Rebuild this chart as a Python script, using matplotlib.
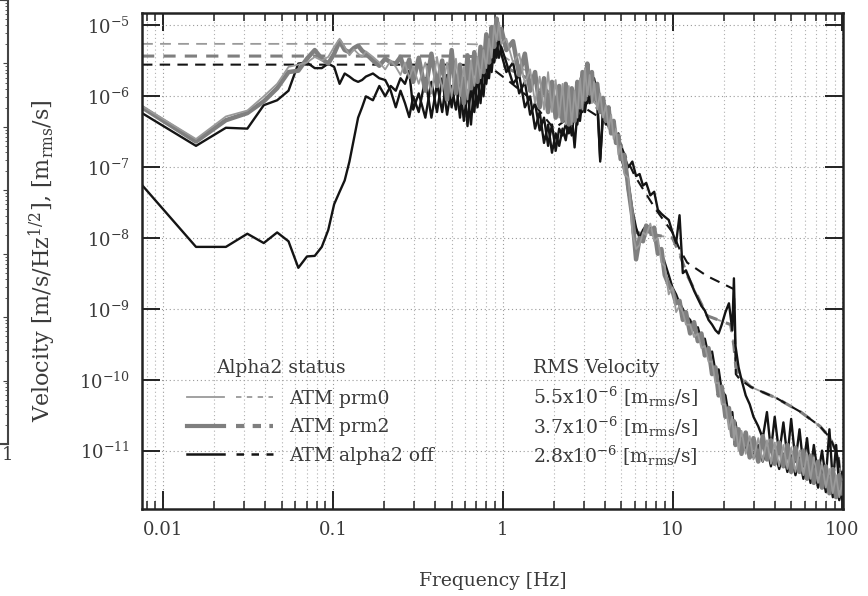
import matplotlib
matplotlib.use('Agg')
from matplotlib import pyplot as plt
from matplotlib.lines import Line2D
from matplotlib.legend_handler import HandlerTuple
from matplotlib.ticker import LogLocator, NullLocator, NullFormatter, FixedLocator, FixedFormatter

plt.rcParams['font.family'] = ['DejaVu Serif']
plt.rcParams['mathtext.fontset'] = 'dejavuserif'

# frequency grid shared by all spectra [Hz]
freq = [0.0075, 0.0156, 0.0234, 0.0313, 0.0391, 0.0469, 0.0547, 0.0625, 0.0703, 0.0781,
        0.0859, 0.0938, 0.1016, 0.1094, 0.1172, 0.125, 0.1328, 0.1406, 0.1484, 0.1563,
        0.1719, 0.1875, 0.2031, 0.2188, 0.2344, 0.25, 0.2656, 0.2813, 0.2969,
        0.32, 0.35, 0.38, 0.41, 0.44, 0.47, 0.50, 0.53, 0.56, 0.59, 0.62, 0.65, 0.68,
        0.71, 0.74, 0.77, 0.80, 0.83, 0.86, 0.89, 0.92, 0.95, 0.98,
        1.05, 1.15, 1.25, 1.35, 1.45, 1.55, 1.65, 1.75, 1.85, 1.95, 2.05, 2.15, 2.25,
        2.35, 2.45, 2.55, 2.65, 2.75, 2.85, 2.95, 3.05, 3.15, 3.25, 3.35, 3.45, 3.6,
        3.75, 3.9, 4.05, 4.2, 4.35, 4.5, 4.65, 4.8, 4.95,
        5.2, 5.5, 5.8, 6.1, 6.4, 6.7, 7.0, 7.4, 7.8, 8.2, 8.6, 9.0, 9.5, 10, 10.5, 11,
        11.5, 12, 12.7, 13.4, 14.1, 14.8, 15.5, 16.3, 17.1, 17.9, 18.7, 19.5,
        20.5, 21.5, 22.5, 23, 23.5, 24.5, 25.5, 27, 28.5, 30, 32, 34, 36, 38, 40, 42.5,
        45, 47.5, 50, 53, 56, 59, 62, 65, 68, 72, 76, 80, 84, 88, 92, 96, 100]

# ATM prm2 (thick grey)
prm2 = [7.0e-7, 2.3e-7, 4.6e-7, 5.8e-7, 8.5e-7, 1.3e-6, 2.2e-6, 2.3e-6, 3.4e-6, 4.5e-6,
        3.4e-6, 2.9e-6, 4.0e-6, 6.0e-6, 4.5e-6, 4.2e-6, 4.8e-6, 5.2e-6, 4.4e-6, 4.0e-6,
        3.2e-6, 2.7e-6, 3.4e-6, 3.0e-6, 2.9e-6, 3.6e-6, 2.2e-6, 3.3e-6, 1.6e-6,
        3.5e-6, 1.2e-6, 4.0e-6, 1.4e-6, 3.2e-6, 9.0e-7, 4.5e-6, 1.1e-6, 2.8e-6, 8.0e-7,
        3.8e-6, 1.3e-6, 4.2e-6, 1.6e-6, 5.0e-6, 2.2e-6, 7.5e-6, 3.0e-6, 9.5e-6, 5.0e-6,
        1.25e-5, 6.5e-6, 9.0e-6,
        4.5e-6, 6.0e-6, 2.0e-6, 4.0e-6, 1.2e-6, 2.2e-6, 7.0e-7, 1.8e-6, 6.0e-7, 1.6e-6,
        5.0e-7, 1.4e-6, 4.5e-7, 1.5e-6, 4.0e-7, 1.3e-6, 4.5e-7, 1.6e-6, 7.0e-7, 2.2e-6,
        9.0e-7, 2.9e-6, 1.1e-6, 2.2e-6, 9.0e-7, 1.5e-6, 6.0e-7, 9.5e-7, 4.5e-7, 7.0e-7,
        3.0e-7, 4.5e-7, 2.2e-7, 2.8e-7, 1.3e-7,
        1.5e-7, 5.0e-8, 2.0e-8, 5.0e-9, 1.0e-8, 9.0e-9, 1.5e-8, 1.2e-8, 1.4e-8, 6.0e-9,
        7.0e-9, 3.0e-9, 2.2e-9, 1.8e-9, 1.2e-9, 1.3e-9, 7.0e-10, 9.0e-10, 4.5e-10,
        6.5e-10, 3.5e-10, 4.5e-10, 2.2e-10, 2.8e-10, 1.2e-10, 1.5e-10, 6.0e-11, 8.0e-11,
        3.0e-11, 4.0e-11, 1.6e-11, 2.6e-11, 1.2e-11, 2.0e-11, 9.0e-12, 1.8e-11, 8.0e-12,
        1.5e-11, 7.0e-12, 1.6e-11, 7.5e-12, 1.4e-11, 6.5e-12, 1.3e-11, 6.0e-12, 1.2e-11,
        5.0e-12, 1.1e-11, 5.0e-12, 1.0e-11, 4.0e-12, 8.5e-12, 3.5e-12, 7.0e-12, 3.0e-12,
        6.0e-12, 2.5e-12, 5.5e-12, 2.2e-12, 4.5e-12, 2.5e-12]

# ATM prm0 (thin grey)
prm0 = [7.3e-7, 2.5e-7, 5.2e-7, 6.3e-7, 1.0e-6, 1.5e-6, 2.6e-6, 2.8e-6, 3.0e-6, 3.6e-6,
        3.2e-6, 3.6e-6, 5.0e-6, 6.5e-6, 5.0e-6, 3.8e-6, 4.6e-6, 4.0e-6, 3.6e-6, 4.3e-6,
        3.6e-6, 3.0e-6, 2.4e-6, 3.2e-6, 2.6e-6, 2.0e-6, 3.0e-6, 1.8e-6, 2.6e-6,
        1.5e-6, 3.0e-6, 1.1e-6, 3.6e-6, 1.2e-6, 3.0e-6, 1.0e-6, 3.4e-6, 1.0e-6, 2.6e-6,
        9.0e-7, 3.2e-6, 1.4e-6, 3.6e-6, 1.8e-6, 4.5e-6, 2.5e-6, 6.5e-6, 3.5e-6, 1.0e-5,
        6.0e-6, 1.1e-5, 5.5e-6,
        6.5e-6, 3.0e-6, 4.0e-6, 1.5e-6, 2.4e-6, 8.0e-7, 1.9e-6, 6.5e-7, 2.2e-6, 6.0e-7,
        1.7e-6, 5.0e-7, 1.5e-6, 4.0e-7, 1.4e-6, 4.0e-7, 1.2e-6, 5.0e-7, 1.8e-6, 6.5e-7,
        2.5e-6, 1.0e-6, 2.0e-6, 8.0e-7, 1.6e-6, 6.5e-7, 1.1e-6, 5.0e-7, 7.5e-7, 3.5e-7,
        5.5e-7, 2.5e-7, 3.5e-7, 1.5e-7, 2.0e-7,
        8.0e-8, 7.0e-8, 1.2e-8, 7.0e-9, 8.0e-9, 1.2e-8, 1.1e-8, 1.6e-8, 9.0e-9, 1.0e-8,
        4.5e-9, 4.0e-9, 1.6e-9, 2.0e-9, 9.0e-10, 1.1e-9, 9.0e-10, 6.0e-10, 6.0e-10,
        4.0e-10, 4.5e-10, 2.8e-10, 3.0e-10, 1.8e-10, 1.8e-10, 9.0e-11, 9.0e-11, 4.5e-11,
        4.5e-11, 2.0e-11, 3.0e-11, 1.4e-11, 2.2e-11, 1.0e-11, 1.9e-11, 9.0e-12, 1.6e-11,
        7.5e-12, 1.5e-11, 7.0e-12, 1.4e-11, 6.5e-12, 1.3e-11, 6.0e-12, 1.2e-11, 5.5e-12,
        1.1e-11, 5.0e-12, 1.0e-11, 4.5e-12, 9.0e-12, 4.0e-12, 8.0e-12, 3.5e-12, 6.5e-12,
        3.0e-12, 5.5e-12, 2.5e-12, 4.5e-12, 2.2e-12, 3.5e-12]

# ATM alpha2 off, first trace (black, close to the grey ones at low frequency)
off_a = [5.8e-7, 2.0e-7, 3.6e-7, 3.5e-7, 7.5e-7, 8.8e-7, 1.2e-6, 2.9e-6, 3.0e-6, 2.5e-6,
         2.5e-6, 2.9e-6, 2.6e-6, 1.5e-6, 2.1e-6, 1.9e-6, 1.7e-6, 1.6e-6, 1.7e-6, 1.9e-6,
         2.1e-6, 1.8e-6, 1.7e-6, 1.2e-6, 7.0e-7, 1.2e-6, 8.0e-7, 5.1e-7, 1.0e-6,
         6.0e-7, 1.8e-6, 5.0e-7, 1.5e-6, 6.0e-7, 2.0e-6, 7.0e-7, 1.6e-6, 5.0e-7, 1.8e-6,
         3.8e-7, 1.4e-6, 6.0e-7, 2.0e-6, 8.0e-7, 2.6e-6, 1.5e-6, 3.5e-6, 2.2e-6, 5.0e-6,
         3.5e-6, 8.0e-6, 4.0e-6,
         2.2e-6, 3.0e-6, 1.1e-6, 1.6e-6, 5.5e-7, 8.0e-7, 3.3e-7, 5.0e-7, 2.0e-7, 4.0e-7,
         1.7e-7, 3.5e-7, 2.8e-7, 4.0e-7, 3.0e-7, 5.5e-7, 1.9e-7, 6.0e-7, 4.5e-7, 9.0e-7,
         6.0e-7, 1.1e-6, 8.0e-7, 1.4e-6, 1.0e-6, 8.0e-7, 1.3e-7, 5.5e-7, 4.0e-7, 5.0e-7,
         3.0e-7, 3.5e-7, 2.5e-7, 2.4e-7, 1.6e-7,
         9.0e-8, 6.0e-8, 2.5e-8, 1.4e-8, 1.0e-8, 1.3e-8, 1.5e-8, 1.4e-8, 1.1e-8, 8.0e-9,
         6.0e-9, 4.5e-9, 3.0e-9, 2.0e-9, 1.6e-9, 1.2e-9, 1.0e-9, 8.0e-10, 7.0e-10,
         5.0e-10, 5.5e-10, 3.5e-10, 3.8e-10, 2.2e-10, 2.5e-10, 1.3e-10, 1.4e-10, 7.0e-11,
         6.0e-11, 3.0e-11, 3.5e-11, 2.0e-11, 2.5e-11, 1.3e-11, 1.6e-11, 1.0e-11, 1.4e-11,
         8.0e-12, 1.2e-11, 7.0e-12, 1.1e-11, 6.0e-12, 1.0e-11, 5.5e-12, 9.0e-12, 5.0e-12,
         8.5e-12, 4.5e-12, 8.0e-12, 4.0e-12, 7.0e-12, 3.5e-12, 6.5e-12, 3.0e-12, 5.5e-12,
         2.6e-12, 4.5e-12, 2.2e-12, 4.0e-12, 2.0e-12, 3.0e-12]

# ATM alpha2 off, second trace (black, low at low frequency)
off_b = [5.6e-8, 7.5e-9, 7.5e-9, 1.15e-8, 8.5e-9, 1.2e-8, 9.0e-9, 3.8e-9, 5.5e-9, 5.6e-9,
         7.5e-9, 1.3e-8, 3.0e-8, 4.5e-8, 6.5e-8, 1.2e-7, 2.5e-7, 5.0e-7, 7.0e-7, 1.0e-6,
         8.8e-7, 1.4e-6, 1.0e-6, 1.4e-6, 1.2e-6, 1.8e-6, 1.5e-6, 2.3e-6, 6.5e-7,
         1.1e-6, 5.0e-7, 1.6e-6, 6.0e-7, 1.8e-6, 5.5e-7, 1.4e-6, 6.5e-7, 1.5e-6, 4.5e-7,
         1.2e-6, 4.0e-7, 1.6e-6, 7.0e-7, 2.2e-6, 1.0e-6, 3.0e-6, 1.8e-6, 4.5e-6, 3.0e-6,
         6.0e-6, 3.5e-6, 5.0e-6,
         3.0e-6, 1.5e-6, 2.0e-6, 7.0e-7, 1.0e-6, 3.5e-7, 6.0e-7, 2.2e-7, 4.0e-7, 1.6e-7,
         3.0e-7, 2.0e-7, 3.5e-7, 2.4e-7, 4.5e-7, 2.8e-7, 6.5e-7, 4.0e-7, 8.5e-7, 6.0e-7,
         1.2e-6, 8.0e-7, 1.6e-6, 1.0e-6, 1.8e-6, 1.1e-6, 1.2e-7, 7.0e-7, 5.0e-7, 4.5e-7,
         3.5e-7, 3.8e-7, 2.6e-7, 3.0e-7, 1.9e-7,
         1.4e-7, 1.0e-7, 1.2e-7, 7.5e-8, 8.0e-8, 5.5e-8, 6.0e-8, 4.0e-8, 4.5e-8, 2.5e-8,
         2.2e-8, 2.0e-8, 1.8e-8, 1.2e-8, 8.5e-9, 2.1e-8, 3.2e-9, 3.5e-9, 2.5e-9, 1.8e-9,
         1.4e-9, 1.1e-9, 9.5e-10, 7.0e-10, 6.0e-10, 5.0e-10, 4.5e-10, 6.0e-10,
         9.0e-10, 1.2e-9, 5.0e-10, 2.7e-9, 3.0e-10, 1.5e-10, 1.0e-10, 6.0e-11, 4.5e-11,
         3.0e-11, 2.2e-11, 1.5e-11, 3.5e-11, 1.0e-11, 3.0e-11, 9.0e-12, 2.5e-11, 8.0e-12,
         2.8e-11, 7.0e-12, 2.0e-11, 6.0e-12, 1.5e-11, 5.0e-12, 1.2e-11, 4.5e-12, 1.0e-11,
         4.0e-12, 2.0e-11, 3.5e-12, 1.2e-11, 3.0e-12, 5.0e-12]

# cumulative RMS velocity curves (dashed)
rms_freq = [0.0075, 0.55, 0.75, 0.9, 1.1, 1.4, 2.0, 3.0, 4.0, 5.0, 6.0, 8.0, 10, 11,
            12.2, 16, 22, 23.0, 23.6, 25, 29, 41, 57, 74, 85, 95, 100]
rms_prm0 = [5.5e-6, 5.5e-6, 5.4e-6, 4.5e-6, 3.2e-6, 2.2e-6, 1.0e-6, 1.1e-6, 6.0e-7, 2.2e-7,
            1.2e-8, 1.1e-8, 1.0e-8, 6.0e-9, 3.0e-9, 8.0e-10, 6.0e-10, 3.0e-10, 1.5e-10,
            1.1e-10, 7.9e-11, 5.5e-11, 3.5e-11, 2.2e-11, 1.5e-11, 8.0e-12, 2.0e-12]
rms_prm2 = [3.7e-6, 3.7e-6, 3.6e-6, 3.2e-6, 2.4e-6, 1.8e-6, 9.0e-7, 1.0e-6, 5.5e-7, 2.0e-7,
            1.2e-8, 1.1e-8, 1.0e-8, 6.0e-9, 3.0e-9, 8.0e-10, 6.0e-10, 3.0e-10, 1.5e-10,
            1.1e-10, 7.9e-11, 5.5e-11, 3.5e-11, 2.2e-11, 1.5e-11, 8.0e-12, 2.0e-12]
rms_off = [2.8e-6, 2.8e-6, 2.7e-6, 2.3e-6, 1.6e-6, 1.0e-6, 3.5e-7, 7.0e-7, 4.5e-7, 1.9e-7,
           7.5e-8, 2.5e-8, 1.2e-8, 7.0e-9, 4.5e-9, 2.9e-9, 2.0e-9, 1.9e-9, 1.2e-10, 1.0e-10,
           7.9e-11, 5.5e-11, 3.5e-11, 2.2e-11, 1.5e-11, 8.0e-12, 2.0e-12]

status_labels = ['ATM prm0', 'ATM prm2', 'ATM alpha2 off']
rms_labels = [r'5.5x10$^{-6}$ [m$_{\rm rms}$/s]',
              r'3.7x10$^{-6}$ [m$_{\rm rms}$/s]',
              r'2.8x10$^{-6}$ [m$_{\rm rms}$/s]']

grey_thin = '#9a9a9a'
grey_thick = '#7f7f7f'
black = '#141414'
txt = '#3a3a3a'

fig = plt.figure(figsize=(8.68, 5.96), dpi=100)
ax = fig.add_axes([0.1636, 0.146, 0.8076, 0.8322])

ax.plot(rms_freq, rms_prm0, color=grey_thin, lw=1.3, dashes=(6, 4))
ax.plot(rms_freq, rms_prm2, color=grey_thick, lw=2.2, dashes=(4, 3))
ax.plot(rms_freq, rms_off, color=black, lw=1.5, dashes=(5, 3.5))

ax.plot(freq, off_b, color=black, lw=1.7)
ax.plot(freq, off_a, color=black, lw=1.7)
ax.plot(freq, prm2, color=grey_thick, lw=3.2)
ax.plot(freq, prm0, color=grey_thin, lw=1.3)

ax.set_xscale('log')
ax.set_yscale('log')
ax.set_xlim(0.0075, 101)
ax.set_ylim(1.5e-12, 1.5e-5)

ax.xaxis.set_major_locator(FixedLocator([0.01, 0.1, 1, 10, 100]))
ax.xaxis.set_major_formatter(FixedFormatter(['0.01', '0.1', '1', '10', '100']))
ax.xaxis.set_minor_locator(LogLocator(base=10, subs=range(2, 10)))
ax.xaxis.set_minor_formatter(NullFormatter())
ax.yaxis.set_major_locator(LogLocator(base=10, numticks=20))
ax.yaxis.set_minor_locator(NullLocator())

ax.tick_params(which='major', direction='in', length=13, width=1.4, top=True, right=True,
               labelsize=13, labelcolor=txt, pad=9, color='#222222')
ax.tick_params(which='minor', direction='in', length=6, width=1.1, top=True, right=True,
               color='#222222')
for s in ax.spines.values():
    s.set_linewidth(1.8)
    s.set_color('#222222')

ax.grid(which='major', axis='both', color='#9a9a9a', lw=0.8, ls=(0, (1, 2.5)))
ax.grid(which='minor', axis='x', color='#b0b0b0', lw=0.8, ls=(0, (1, 2.5)))
ax.set_axisbelow(True)

ax.set_xlabel('Frequency [Hz]', fontsize=13.5, color=txt)
ax.set_ylabel(r'Velocity [m/s/Hz$^{1/2}$], [m$_{\rm rms}$/s]', fontsize=16, color=txt)
ax.xaxis.set_label_coords(0.5, -0.128)
ax.yaxis.set_label_coords(-0.12, 0.5)

# legend: solid line + dashed line for each status
handles = [
    (Line2D([], [], color=grey_thin, lw=1.3), Line2D([], [], color=grey_thin, lw=1.3, dashes=(3, 3))),
    (Line2D([], [], color=grey_thick, lw=3.0), Line2D([], [], color=grey_thick, lw=3.0, dashes=(2, 2))),
    (Line2D([], [], color=black, lw=1.8), Line2D([], [], color=black, lw=1.8, dashes=(3, 3))),
]
leg = ax.legend(handles, status_labels, handler_map={tuple: HandlerTuple(ndivide=None, pad=0.6)},
                loc='upper left', bbox_to_anchor=(0.064, 0.24), borderaxespad=0, borderpad=0,
                frameon=False, handlelength=4.6, handletextpad=0.85, labelspacing=0.56,
                fontsize=13.5, labelcolor=txt)

ax.text(0.106, 0.284, 'Alpha2 status', transform=ax.transAxes, fontsize=13.5,
        color=txt, va='center', ha='left')
ax.text(0.558, 0.284, 'RMS Velocity', transform=ax.transAxes, fontsize=13.5,
        color=txt, va='center', ha='left')
for lab, yy in zip(rms_labels, [0.226, 0.166, 0.108]):
    ax.text(0.558, yy, lab, transform=ax.transAxes, fontsize=13.5, color=txt,
            va='center', ha='left')

# edge of the neighbouring panel, cut off at the left border
ax0 = fig.add_axes([-0.02, 0.255, 0.029, 0.745])
ax0.set_yscale('log')
ax0.set_ylim(1e-12, 1e-5)
ax0.yaxis.tick_right()
ax0.tick_params(which='both', direction='in', labelright=False, labelleft=False,
                color='#444444')
ax0.xaxis.set_visible(False)
for s in ax0.spines.values():
    s.set_linewidth(1.5)
    s.set_color('#444444')
fig.text(0.002, 0.228, '1', fontsize=13, color=txt)

fig.savefig('out.png', dpi=100)
